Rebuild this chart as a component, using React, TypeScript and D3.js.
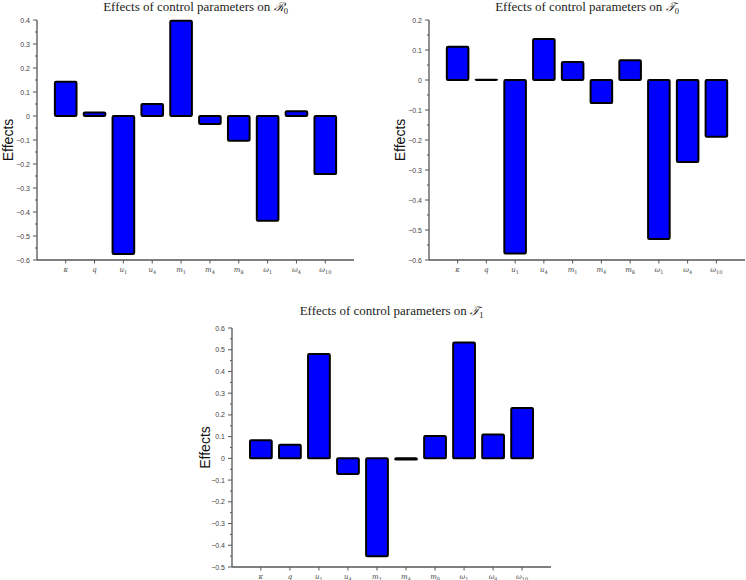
import React from "react";
import * as d3 from "d3";

const paramBase = ["κ", "q", "u", "u", "m", "m", "m", "ω", "ω", "ω"];
const paramSub = ["", "", "1", "4", "1", "4", "8", "1", "4", "10"];
const paramKeys = ["kappa", "q", "u1", "u4", "m1", "m4", "m8", "w1", "w4", "w10"];

const effectsR0 = [0.143, 0.015, -0.575, 0.05, 0.397, -0.033, -0.103, -0.436, 0.02, -0.242];
const effectsT0 = [0.111, 0.001, -0.578, 0.137, 0.06, -0.077, 0.066, -0.53, -0.273, -0.189];
const effectsT1 = [0.083, 0.063, 0.48, -0.072, -0.45, -0.005, 0.103, 0.533, 0.11, 0.232];

const domainR0: [number, number] = [-0.6, 0.4];
const domainT0: [number, number] = [-0.6, 0.2];
const domainT1: [number, number] = [-0.5, 0.6];

const fmt = (d: number) => (Math.abs(d) < 1e-9 ? "0" : d3.format(".1f")(d));

type PanelProps = {
  left: number;
  right: number;
  top: number;
  bottom: number;
  domain: [number, number];
  values: number[];
  symbol: string;
  sub: string;
  labelX: number;
  titleY: number;
};

function Panel({ left, right, top, bottom, domain, values, symbol, sub, labelX, titleY }: PanelProps) {
  const x = d3.scaleBand<string>().domain(paramKeys).range([left, right]).paddingInner(0.25).paddingOuter(0.62);
  const y = d3.scaleLinear().domain(domain).range([bottom, top]);
  const major = d3.range(Math.round(domain[0] * 10), Math.round(domain[1] * 10) + 1).map((v) => v / 10);
  const minor = d3.range(Math.round(domain[0] * 10), Math.round(domain[1] * 10)).map((v) => v / 10 + 0.05);
  const axisColor = "#555";
  const textColor = "#444";
  const cx = (left + right) / 2;
  return (
    <g>
      <text x={cx} y={titleY} textAnchor="middle" fontFamily="'Liberation Serif', serif" fontSize={13} fill="#222">
        Effects of control parameters on{" "}
        <tspan fontStyle="italic" fontFamily="'DejaVu Serif', serif" fontSize={12}>{symbol}</tspan>
        <tspan fontSize={8.5} dy={2.5}>{sub}</tspan>
      </text>
      <text
        transform={`translate(${labelX},${(top + bottom) / 2}) rotate(-90)`}
        textAnchor="middle"
        dominantBaseline="central"
        fontFamily="'Liberation Sans', Arial, sans-serif"
        fontSize={14}
        fill="#111"
      >
        Effects
      </text>
      {values.map((v, i) => {
        const k = paramKeys[i];
        const y0 = y(0);
        const yv = y(v);
        return (
          <rect
            key={k}
            x={x(k)!}
            y={Math.min(y0, yv)}
            width={x.bandwidth()}
            height={Math.abs(yv - y0)}
            fill="#0000ff"
            stroke="#000"
            strokeWidth={2}
            rx={1.2}
          />
        );
      })}
      <line x1={left} x2={left} y1={top} y2={bottom} stroke={axisColor} strokeWidth={1.3} />
      <line x1={left} x2={right} y1={bottom} y2={bottom} stroke={axisColor} strokeWidth={1.3} />
      {major.map((t) => (
        <g key={"M" + t}>
          <line x1={left - 4} x2={left} y1={y(t)} y2={y(t)} stroke={axisColor} strokeWidth={1} />
          <text
            x={left - 7}
            y={y(t)}
            textAnchor="end"
            dominantBaseline="central"
            fontFamily="'Liberation Sans', Arial, sans-serif"
            fontSize={7}
            fill={textColor}
          >
            {fmt(t)}
          </text>
        </g>
      ))}
      {minor.map((t) => (
        <line key={"m" + t} x1={left - 2} x2={left} y1={y(t)} y2={y(t)} stroke={axisColor} strokeWidth={1} />
      ))}
      {paramKeys.map((k, i) => {
        const c = x(k)! + x.bandwidth() / 2;
        return (
          <g key={"x" + k}>
            <line x1={c} x2={c} y1={bottom} y2={bottom + 3.5} stroke={axisColor} strokeWidth={1} />
            <text
              x={c}
              y={bottom + 12}
              textAnchor="middle"
              fontFamily="'DejaVu Serif', serif"
              fontStyle="italic"
              fontSize={7}
              fill={textColor}
            >
              {paramBase[i]}
              {paramSub[i] && (
                <tspan fontSize={5} dy={1.5} fontStyle="normal">
                  {paramSub[i]}
                </tspan>
              )}
            </text>
          </g>
        );
      })}
    </g>
  );
}

export default function App() {
  return (
    <svg
      width={746}
      height={580}
      style={{ position: "absolute", left: 0, top: 0, background: "#fff", display: "block" }}
    >
      <rect x={0} y={0} width={746} height={580} fill="#fff" />
      <Panel left={37} right={354} top={20} bottom={260} domain={domainR0} values={effectsR0} symbol="ℛ" sub="0" labelX={8} titleY={11} />
      <Panel left={429} right={745} top={20} bottom={260} domain={domainT0} values={effectsT0} symbol="𝒯" sub="0" labelX={400} titleY={11} />
      <Panel left={232} right={551} top={328} bottom={567} domain={domainT1} values={effectsT1} symbol="𝒯" sub="1" labelX={205} titleY={315} />
    </svg>
  );
}
